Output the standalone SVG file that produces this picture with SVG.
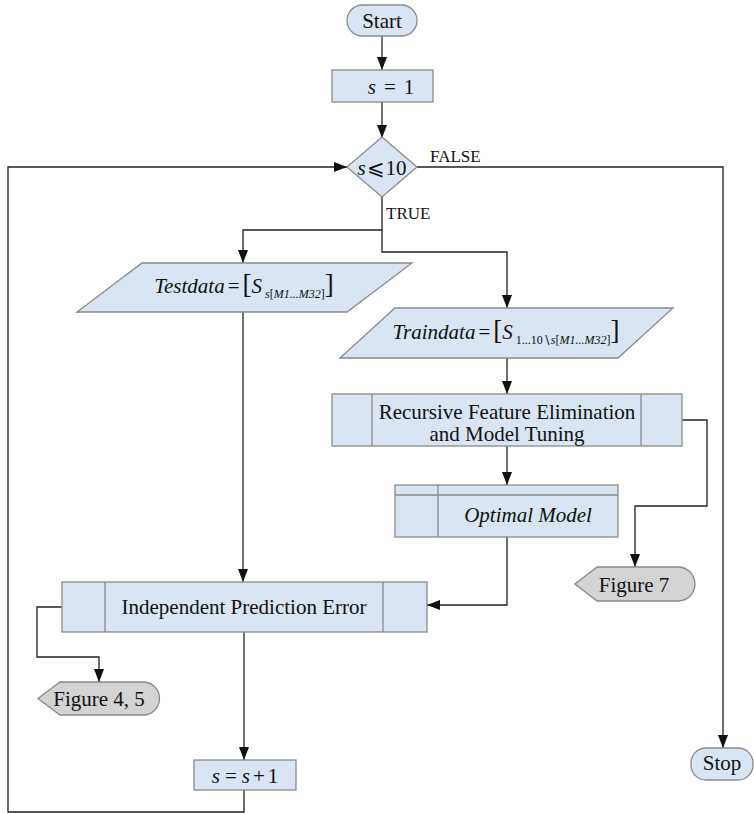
<svg xmlns="http://www.w3.org/2000/svg" width="754" height="814" viewBox="0 0 754 814">
<defs>
<marker id="arr" markerWidth="13" markerHeight="10" refX="13" refY="5" orient="auto" markerUnits="userSpaceOnUse">
<path d="M0,0 L13,5 L0,10 Z" fill="#111"/>
</marker>
<style>
.box{fill:#d9e5f2;stroke:#8a8a8a;stroke-width:1.3}
.gray{fill:#d3d3d3;stroke:#8a8a8a;stroke-width:1.3}
.inner{fill:none;stroke:#8a8a8a;stroke-width:1.3}
.con{fill:none;stroke:#222;stroke-width:1.3}
text{font-family:'Liberation Serif','Times New Roman','DejaVu Serif',serif}
.t{font-size:21px;fill:#111;text-anchor:middle}
.lbl{font-size:17px;fill:#111}
.i{font-style:italic}
</style>
</defs>
<rect width="754" height="814" fill="#fff"/>

<g id="connectors">
<path class="con" d="M382,36 L382,70" marker-end="url(#arr)"/>
<path class="con" d="M382,102 L382,138" marker-end="url(#arr)"/>
<path class="con" d="M382,197 L382,230 L243,230 L243,263" marker-end="url(#arr)"/>
<path class="con" d="M382,230 L382,252 L507,252 L507,308" marker-end="url(#arr)"/>
<path class="con" d="M507,358 L507,394" marker-end="url(#arr)"/>
<path class="con" d="M507,446 L507,485" marker-end="url(#arr)"/>
<path class="con" d="M682,420 L707,420 L707,506 L635,506 L635,567" marker-end="url(#arr)"/>
<path class="con" d="M507,537 L507,605 L427,605" marker-end="url(#arr)"/>
<path class="con" d="M243,312 L243,582" marker-end="url(#arr)"/>
<path class="con" d="M62,607 L37,607 L37,657 L99,657 L99,682" marker-end="url(#arr)"/>
<path class="con" d="M244,632 L244,760" marker-end="url(#arr)"/>
<path class="con" d="M244,790 L244,812 L8,812 L8,167 L347,167" marker-end="url(#arr)"/>
<path class="con" d="M417,167 L723,167 L723,748" marker-end="url(#arr)"/>
<text class="lbl" x="430" y="162">FALSE</text>
<text class="lbl" x="386" y="219">TRUE</text>
</g>

<g id="start">
<rect class="box" x="347" y="5" width="70" height="31" rx="15.5"/>
<text class="t" x="382" y="28">Start</text>
</g>

<g id="init">
<rect class="box" x="332" y="70" width="101" height="32"/>
<text class="t" x="391" y="94" font-size="24"><tspan class="i">s</tspan><tspan dx="8">=</tspan><tspan dx="8">1</tspan></text>
</g>

<g id="decision">
<polygon class="box" points="382,137 417,167 382,197 347,167"/>
<text class="t" x="382" y="175" font-size="22"><tspan class="i">s</tspan><tspan dx="1">⩽</tspan><tspan dx="1">10</tspan></text>
</g>

<g id="testdata">
<polygon class="box" points="142,263 412,263 347,312 77,312"/>
<text class="t" x="244" y="293"><tspan class="i">Testdata</tspan><tspan dx="3">=</tspan><tspan dx="3" font-size="27">[</tspan><tspan class="i">S</tspan><tspan dx="3" dy="5" font-size="12" class="i">s</tspan><tspan font-size="12">[</tspan><tspan font-size="12" class="i">M1...M32</tspan><tspan font-size="12">]</tspan><tspan dy="-5" font-size="27">]</tspan></text>
</g>

<g id="traindata">
<polygon class="box" points="395,308 673,308 618,358 340,358"/>
<text class="t" x="506" y="339"><tspan class="i">Traindata</tspan><tspan dx="3">=</tspan><tspan dx="3" font-size="27">[</tspan><tspan class="i">S</tspan><tspan dx="3" dy="5" font-size="12">1...10∖</tspan><tspan font-size="12" class="i">s</tspan><tspan font-size="12">[</tspan><tspan font-size="12" class="i">M1...M32</tspan><tspan font-size="12">]</tspan><tspan dy="-5" font-size="27">]</tspan></text>
</g>

<g id="rfe">
<rect class="box" x="332" y="394" width="350" height="52"/>
<path class="inner" d="M372,394 V446 M641,394 V446"/>
<text class="t" x="507" y="419" font-size="20">Recursive Feature Elimination</text>
<text class="t" x="507" y="441" font-size="20">and Model Tuning</text>
</g>

<g id="optimal">
<rect class="box" x="395" y="485" width="223" height="52"/>
<path class="inner" d="M395,495 H618 M438,485 V537"/>
<text class="t i" x="528" y="522">Optimal Model</text>
</g>

<g id="figure7">
<path class="gray" d="M575,584 L597,567 L678,567 A17,17 0 0 1 678,601 L597,601 Z"/>
<text class="t" x="634" y="592">Figure 7</text>
</g>

<g id="ipe">
<rect class="box" x="62" y="582" width="365" height="50"/>
<path class="inner" d="M105,582 V632 M383,582 V632"/>
<text class="t" x="244" y="614">Independent Prediction Error</text>
</g>

<g id="figure45">
<path class="gray" d="M38,698.5 L60,682 L143,682 A16.5,16.5 0 0 1 143,715 L60,715 Z"/>
<text class="t" x="99" y="706">Figure 4, 5</text>
</g>

<g id="increment">
<rect class="box" x="194" y="760" width="102" height="30"/>
<text class="t" x="245" y="783" font-size="23"><tspan class="i">s</tspan><tspan dx="5">=</tspan><tspan dx="5" class="i">s</tspan><tspan dx="3">+</tspan><tspan dx="3">1</tspan></text>
</g>

<g id="stop">
<rect class="box" x="691" y="748" width="62" height="32" rx="15"/>
<text class="t" x="722" y="770" font-size="18">Stop</text>
</g>
</svg>
